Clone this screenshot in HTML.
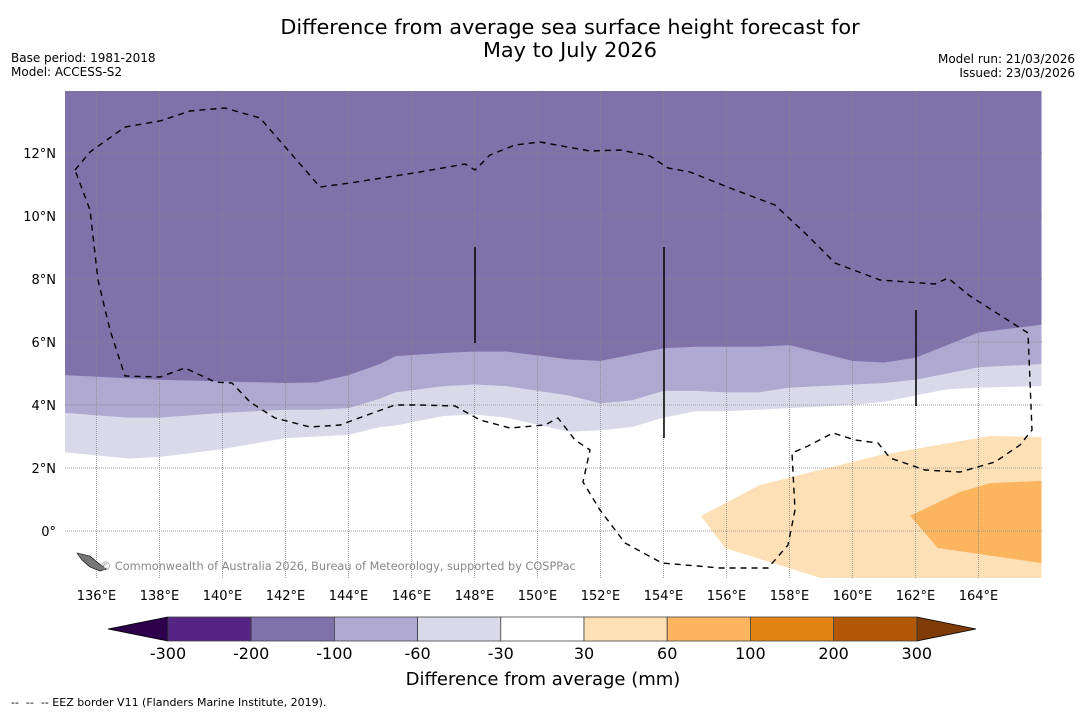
<!DOCTYPE html>
<html><head><meta charset="utf-8"><style>
body{margin:0;background:#fff;font-family:"DejaVu Sans","Liberation Sans",sans-serif;}
svg text{font-family:"DejaVu Sans","Liberation Sans",sans-serif;}
</style></head><body>
<svg id="chart" width="1085" height="713" xmlns="http://www.w3.org/2000/svg">
<text x="570" y="34" font-size="20.8" text-anchor="middle">Difference from average sea surface height forecast for</text>
<text x="570" y="57" font-size="20.8" text-anchor="middle">May to July 2026</text>
<text x="11" y="62" font-size="12">Base period: 1981-2018</text>
<text x="11" y="76" font-size="12">Model: ACCESS-S2</text>
<text x="1075" y="63" font-size="12" text-anchor="end">Model run: 21/03/2026</text>
<text x="1075" y="77" font-size="12" text-anchor="end">Issued: 23/03/2026</text>
<defs><clipPath id="mapclip"><rect x="65" y="91" width="977" height="487"/></clipPath></defs>
<g id="map" clip-path="url(#mapclip)"></g>
<g id="axes"></g>
<g id="cbar"></g>
<text x="543" y="685" font-size="18" text-anchor="middle">Difference from average (mm)</text>
<text x="11" y="706" font-size="11" xml:space="preserve">--  --  -- EEZ border V11 (Flanders Marine Institute, 2019).</text>
</svg>
<script>
const lonTicks=[136,138,140,142,144,146,148,150,152,154,156,158,160,162,164];
const latTicks=[0,2,4,6,8,10,12];
const bandLons=[135,137,138,140,142,143,144,145,145.5,147,148,149,151,152,153,154,155,156,157,158,160,161,162,163,164,166];
const bound100=[4.95,4.85,4.8,4.75,4.7,4.72,4.95,5.3,5.55,5.65,5.7,5.7,5.45,5.4,5.6,5.8,5.85,5.85,5.85,5.9,5.4,5.35,5.5,5.9,6.3,6.55];
const bound60=[3.75,3.6,3.6,3.75,3.85,3.85,3.9,4.2,4.4,4.6,4.65,4.6,4.3,4.05,4.15,4.45,4.45,4.4,4.4,4.55,4.65,4.7,4.8,5.0,5.2,5.3];
const bound30=[2.5,2.3,2.35,2.6,2.95,3.0,3.05,3.3,3.35,3.65,3.7,3.6,3.15,3.2,3.3,3.6,3.8,3.8,3.85,3.9,4.0,4.1,4.3,4.5,4.55,4.6];
const orangeLightLon=[155.19,155.95,158.97,166,166,164.37,160.87,158.97,157.06];
const orangeLightLat=[0.48,-0.54,-1.49,-1.5,2.98,3.02,2.41,1.94,1.46];
const orangeDarkLon=[161.83,162.71,166,166,164.37,163.41];
const orangeDarkLat=[0.48,-0.54,-1.02,1.59,1.52,1.24];
const cbarLabels=["-300","-200","-100","-60","-30","30","60","100","200","300"];
const cbarColors=["#552586","#7f72ab","#afa8d0","#d9d9ea","#ffffff","#fde0b6","#fbb55e","#e08214","#b35806"];
const NS="http://www.w3.org/2000/svg";
const X=lon=>65+(lon-135)*31.5, Y=lat=>531-lat*31.5;
function mk(t,a,p){const e=document.createElementNS(NS,t);for(const k in a)e.setAttribute(k,a[k]);p.appendChild(e);return e;}
const map=document.getElementById('map'),axes=document.getElementById('axes'),cb=document.getElementById('cbar');
let r=mk('rect',{x:65,y:91,width:977,height:487,fill:'#ffffff'},map);


function band(b,col,name){
  let d='M'+X(bandLons[0])+','+Y(20);
  bandLons.forEach((l,i)=>d+=' L'+X(l)+','+Y(b[i]));
  d+=' L'+X(bandLons[bandLons.length-1])+','+Y(20)+'Z';
  const p=mk('path',{d:d,fill:col},map);
  
  
}
band(bound30,'#d9d9ea','band-minus30');
band(bound60,'#afa8d0','band-minus60');
band(bound100,'#7f72ab','band-minus100');
function poly(lons,lats,col,name){
  const p=mk('polygon',{points:lons.map((l,i)=>X(l)+','+Y(lats[i])).join(' '),fill:col},map);
  
  
}
poly(orangeLightLon,orangeLightLat,'#fde0b6','band-plus30');
poly(orangeDarkLon,orangeDarkLat,'#fbb55e','band-plus60');
lonTicks.forEach(l=>{
  const g=mk('line',{x1:X(l),x2:X(l),y1:91,y2:578,stroke:'#888','stroke-width':0.8,'stroke-dasharray':'1,1'},map);
  
  
  const t=mk('text',{x:X(l),y:600,'font-size':13,'text-anchor':'middle'},axes);t.textContent=l+'°E';
  
  
});
latTicks.forEach(l=>{
  const g=mk('line',{x1:65,x2:1042,y1:Y(l),y2:Y(l),stroke:'#888','stroke-width':0.8,'stroke-dasharray':'1,1'},map);
  
  
  const t=mk('text',{x:56,y:Y(l)+5,'font-size':13,'text-anchor':'end'},axes);t.textContent=l===0?'0°':l+'°N';
  
  
});
const eez="75,170 90,152 125,127 160,121 190,111 225,108 260,118 320,187 350,183 420,172 465,164 475,170 490,155 515,145 540,142 590,151 620,150 650,156 668,168 690,172 730,188 775,205 805,233 835,263 880,280 935,284 948,278 970,296 1028,333 1032,430 1020,445 995,462 960,472 925,470 890,458 878,443 855,440 833,433 808,446 792,453 795,510 788,545 768,568 720,568 662,563 625,543 600,510 583,482 590,450 575,440 558,418 545,425 510,428 480,420 455,406 420,405 395,405 370,414 340,425 310,427 275,418 250,402 232,383 215,382 185,368 160,377 125,376 110,330 98,280 90,210 75,170";
let e=mk('polyline',{points:eez,fill:'none',stroke:'#000','stroke-width':1.4,'stroke-dasharray':'6,5'},map);


[[475,247,343],[664,247,438],[916,310,406]].forEach(v=>{
  const l=mk('line',{x1:v[0],x2:v[0],y1:v[1],y2:v[2],stroke:'#000','stroke-width':1.5},map);
  
  
});
let isl=mk('polygon',{points:'77,553 90,556 97,562 106,569 100,571 90,567 82,560',fill:'#777',stroke:'#000','stroke-width':0.6},map);


let cr=mk('text',{x:100,y:570,'font-size':11.3,fill:'#888'},map);cr.textContent='© Commonwealth of Australia 2026, Bureau of Meteorology, supported by COSPPac';


const bx0=168,bw=83.2,by=617,bh=24;
let lt=mk('polygon',{points:`108,629 ${bx0},${by} ${bx0},${by+bh}`,fill:'#2d004b',stroke:'#000','stroke-width':0.8},cb);


const xr=bx0+bw*cbarColors.length;
let rt=mk('polygon',{points:`${xr},${by} 976,629 ${xr},${by+bh}`,fill:'#7f3b08',stroke:'#000','stroke-width':0.8},cb);


cbarColors.forEach((c,i)=>{
  const b=mk('rect',{x:bx0+i*bw,y:by,width:bw,height:bh,fill:c,stroke:'#444','stroke-width':0.8},cb);
  
  
});
cbarLabels.forEach((s,i)=>{
  const t=mk('text',{x:bx0+i*bw,y:659,'font-size':16,'text-anchor':'middle'},cb);t.textContent=s;
  
  
});
</script>
</body></html>
